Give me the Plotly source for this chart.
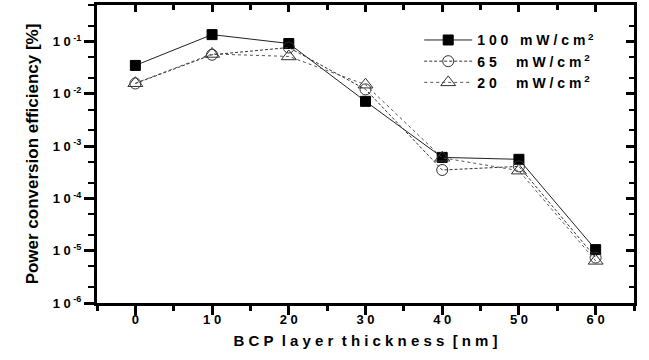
import plotly.graph_objects as go

thickness = [0, 10, 20, 30, 40, 50, 60]
pce_100 = [0.035, 0.136, 0.092, 0.0072, 6.1e-4, 5.6e-4, 1.05e-5]
pce_65 = [0.0158, 0.056, 0.077, 0.0122, 3.5e-4, 4.1e-4, 7.4e-6]
pce_20 = [0.0160, 0.058, 0.052, 0.0150, 6.0e-4, 3.4e-4, 6.4e-6]
series_names = ["1 0 0   m W / c m<sup> 2</sup>", "6 5     m W / c m<sup> 2</sup>", "2 0     m W / c m<sup> 2</sup>"]
x_ticks = [0, 10, 20, 30, 40, 50, 60]
x_ticklabels = ["0", "1 0", "2 0", "3 0", "4 0", "5 0", "6 0"]
y_ticks = [1e-6, 1e-5, 1e-4, 1e-3, 1e-2, 1e-1]
y_ticklabels = ["1 0<sup> -6</sup>", "1 0<sup> -5</sup>", "1 0<sup> -4</sup>",
                "1 0<sup> -3</sup>", "1 0<sup> -2</sup>", "1 0<sup> -1</sup>"]

NB = "\u00a0"
def sp(s):
    return s.replace(" ", NB)

fig = go.Figure()
fig.add_trace(go.Scatter(x=thickness, y=pce_100, name=sp(series_names[0]), mode="lines+markers",
                         line=dict(color="#222", width=1, dash="solid"),
                         marker=dict(symbol="square", size=10, color="black", line=dict(color="black", width=1))))
fig.add_trace(go.Scatter(x=thickness, y=pce_65, name=sp(series_names[1]), mode="lines+markers",
                         line=dict(color="#333", width=1, dash="3px,2px"),
                         marker=dict(symbol="circle-open", size=11, color="#333", line=dict(width=1))))
fig.add_trace(go.Scatter(x=thickness, y=pce_20, name=sp(series_names[2]), mode="lines+markers",
                         line=dict(color="#555", width=1, dash="dot"),
                         marker=dict(symbol="triangle-up-open", size=13, color="#333", line=dict(width=1))))

font = dict(family="Liberation Sans, Arial, sans-serif", color="black")
fig.update_layout(
    width=649, height=360,
    margin=dict(l=97, r=15, t=5, b=57),
    paper_bgcolor="white", plot_bgcolor="white",
    font=font,
    showlegend=True,
    legend=dict(x=0.6, y=0.935, xanchor="left", yanchor="top", bgcolor="rgba(0,0,0,0)",
                font=dict(size=14, family="Liberation Sans, Arial, sans-serif", color="black", weight="bold"),
                itemwidth=48, tracegroupgap=0),
    xaxis=dict(range=[-5, 65], tickvals=x_ticks, ticktext=x_ticklabels, ticks="outside", ticklen=9,
               tickwidth=3, tickcolor="black", showline=True, linewidth=3, linecolor="black",
               showgrid=False, zeroline=False, ticklabelstandoff=-7,
               tickfont=dict(size=13, weight="bold"),
               minor=dict(dtick=5, tick0=0, ticks="outside", ticklen=5, tickwidth=3, tickcolor="black", showgrid=False),
               title=dict(text=sp("B C P  l a y e r  t h i c k n e s s  [ n m ]"),
                          font=dict(size=15, weight="bold"), standoff=10)),
    yaxis=dict(type="log", range=[-6, -0.3], tickvals=y_ticks, ticktext=[sp(t) for t in y_ticklabels],
               ticks="outside", ticklen=10, tickwidth=3, tickcolor="black", showline=True, linewidth=3,
               linecolor="black", showgrid=False, zeroline=False, ticklabelstandoff=0,
               tickfont=dict(size=13, weight="bold"),
               minor=dict(ticks="outside", ticklen=6, tickwidth=2, tickcolor="black", showgrid=False),
               title=dict(text="Power conversion efficiency [%]", font=dict(size=17, weight="bold"), standoff=10)),
    xaxis2=dict(overlaying="x", matches="x", side="top", range=[-5, 65], tickvals=x_ticks, showticklabels=False,
                ticks="inside", ticklen=7, tickwidth=3, tickcolor="black", showline=True, linewidth=3,
                linecolor="black", showgrid=False, zeroline=False,
                minor=dict(dtick=5, tick0=0, ticks="inside", ticklen=5, tickwidth=3, tickcolor="black", showgrid=False)),
    yaxis2=dict(overlaying="y", side="right", type="log", range=[-6, -0.3], tickvals=y_ticks, showticklabels=False,
                ticks="inside", ticklen=8, tickwidth=3, tickcolor="black", showline=True, linewidth=3,
                linecolor="black", showgrid=False, zeroline=False,
                minor=dict(ticks="inside", ticklen=5, tickwidth=2, tickcolor="black", showgrid=False)),
)
# invisible trace to activate the mirrored axes
fig.add_trace(go.Scatter(x=[thickness[0]], y=[pce_100[0]], xaxis="x2", yaxis="y2", mode="markers",
                         marker=dict(opacity=0), showlegend=False, hoverinfo="skip"))
fig.write_html("out.html")
